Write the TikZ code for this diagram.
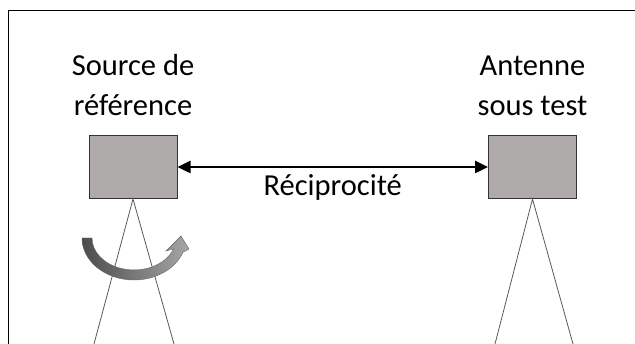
\documentclass[tikz,border=0pt]{standalone}
\usepackage{fontspec}
\setmainfont{Carlito}
\usetikzlibrary{arrows.meta,positioning}
\definecolor{boxgray}{HTML}{AEAAAA}
\tikzset {
  >=Stealth,
  every node/.style={font=\fontsize{30.5}{40}\selectfont},
}

\begin{document}
\begin{tikzpicture}[x=1pt,y=-1pt,
    antenna/.style={draw=black!80,line width=1pt,fill=boxgray,
      minimum width=88pt,minimum height=63pt,inner sep=0pt},
    label/.style={align=center,inner sep=0pt},
    beam/.style={black!65,line width=0.8pt},
    recip/.style={line width=2.5pt,
      {Triangle[length=13pt,width=12pt]}-{Triangle[length=13pt,width=12pt]}}]
  \useasboundingbox (0,0) rectangle (635,344);
  % cadre
  \draw[line width=1pt] (8,344) |- (635,11);
  % antennes
  \node[antenna] (src) at (133,167) {};
  \node[antenna] (ant) at (532.5,167) {};
  \node[label,above=19pt of src] (srclabel) {Source de\\référence};
  \node[label,above=19pt of ant] (antlabel) {Antenne\\sous test};
  % reciprocite
  \draw[recip] (src.east) -- (ant.west)
    node[midway,below=6pt,inner sep=0pt] (reclabel) {Réciprocité};
  % faisceaux
  \coordinate (srcl) at (94,344);
  \coordinate (srcr) at (174,344);
  \coordinate (antl) at (495,344);
  \coordinate (antr) at (573,344);
  \draw[beam] (srcl) -- (src.south) -- (srcr);
  \draw[beam] (antl) -- (ant.south) -- (antr);
  % rotation
  \shade[left color=black!70,right color=black!35,draw=black!60,line width=0.4pt]
    (82,238) arc[start angle=180,end angle=20,x radius=52,y radius=42]
    -- (189,249) -- (181,236) -- (166,251) -- (173.5,248.9)
    arc[start angle=20,end angle=180,x radius=42,y radius=32] -- cycle;
\end{tikzpicture}
\end{document}
